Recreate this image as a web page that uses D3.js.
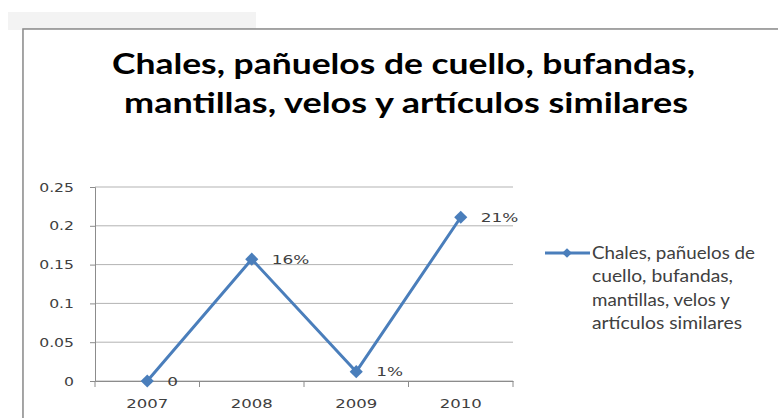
<!DOCTYPE html>
<html>
<head>
<meta charset="utf-8">
<script src="https://cdn.jsdelivr.net/npm/d3@7"></script>
<style>
  html, body { margin: 0; padding: 0; background: #fff; }
  svg { display: block; }
</style>
</head>
<body>
<svg id="chart" width="778" height="418"></svg>
<script>
// Chart data
const titleLines = ["Chales, pañuelos de cuello, bufandas,", "mantillas, velos y artículos similares"];
const years = ["2007", "2008", "2009", "2010"];
const values = [0, 0.157, 0.012, 0.211];
const yTicks = [0, 0.05, 0.1, 0.15, 0.2, 0.25];
const seriesName = ["Chales, pañuelos de", "cuello, bufandas,", "mantillas, velos y", "artículos similares"];

const svg = d3.select("#chart");
const textColor = "#404040";
const lineColor = "#4a7ebb";
const axisFont = "'DejaVu Sans', Verdana, sans-serif";
const textFont = "Lato, 'Open Sans', sans-serif";

// widen a text element horizontally by factor k
function widen(sel, k) {
  sel.each(function () {
    const len = this.getComputedTextLength();
    d3.select(this).attr("textLength", len * k).attr("lengthAdjust", "spacingAndGlyphs");
  });
}
// stretch a text element to an exact width
function fitTo(sel, w) {
  sel.attr("textLength", w).attr("lengthAdjust", "spacingAndGlyphs");
}

// faint band behind the top-left of the frame
svg.append("rect").attr("x", 8).attr("y", 12).attr("width", 248).attr("height", 18)
  .attr("fill", "#f3f3f3");

// chart frame (runs off the right and bottom edges)
svg.append("rect").attr("x", 24).attr("y", 30).attr("width", 800).attr("height", 420)
  .attr("fill", "#fff").attr("stroke", "#cccccc").attr("stroke-width", 3);
svg.append("rect").attr("x", 23).attr("y", 29).attr("width", 800).attr("height", 420)
  .attr("fill", "#fff").attr("stroke", "#8c8c8c").attr("stroke-width", 1.5);

// title
const titleWidths = [583, 564];
const titleCenters = [403.5, 406];
titleLines.forEach((t, i) => {
  svg.append("text")
    .attr("x", titleCenters[i]).attr("y", 74 + i * 39)
    .attr("text-anchor", "middle")
    .attr("font-family", textFont)
    .attr("font-weight", "bold")
    .attr("font-size", 29)
    .attr("fill", "#000")
    .text(t)
    .call(fitTo, titleWidths[i]);
});

// scales
const x = d3.scaleBand().domain(years).range([95, 513]);
const y = d3.scaleLinear().domain([0, 0.25]).range([381, 187]);

// gridlines
svg.append("g").selectAll("line").data(yTicks).join("line")
  .attr("x1", 95).attr("x2", 513)
  .attr("y1", d => y(d)).attr("y2", d => y(d))
  .attr("stroke", "#b3b3b3").attr("stroke-width", 1);

// y axis
const yAxis = svg.append("g").attr("transform", "translate(95,0)")
  .call(d3.axisLeft(y).tickValues(yTicks).tickSize(5).tickFormat(d => String(d)));
yAxis.select(".domain").attr("stroke", "#8c8c8c");
yAxis.selectAll(".tick line").attr("stroke", "#8c8c8c");
yAxis.selectAll(".tick text").attr("x", -21)
  .attr("font-family", axisFont).attr("font-size", 12.5).attr("fill", textColor)
  .call(widen, 1.25);

// x axis with tick marks between categories
const xAxis = svg.append("g").attr("transform", "translate(0,381)")
  .call(d3.axisBottom(x).tickSize(0).tickPadding(18));
xAxis.select(".domain").attr("stroke", "#8c8c8c");
xAxis.selectAll(".tick text")
  .attr("font-family", axisFont).attr("font-size", 13).attr("fill", textColor)
  .call(widen, 1.27);
const bounds = years.map(d => x(d)).concat([x.range()[1]]);
xAxis.append("g").selectAll("line").data(bounds).join("line")
  .attr("x1", d => d).attr("x2", d => d).attr("y1", 0).attr("y2", 6)
  .attr("stroke", "#8c8c8c");

// line series
const cx = d => x(d) + x.bandwidth() / 2;
const pts = years.map((yr, i) => [cx(yr), y(values[i])]);
svg.append("path").datum(pts)
  .attr("d", d3.line())
  .attr("fill", "none").attr("stroke", lineColor).attr("stroke-width", 3)
  .attr("stroke-linejoin", "round");

const diamond = d3.symbol().type(d3.symbolDiamond2).size(110);
svg.append("g").selectAll("path").data(pts).join("path")
  .attr("transform", d => `translate(${d[0]},${d[1]})`)
  .attr("d", diamond).attr("fill", lineColor);

// data labels
const pct = d3.format(".0%");
svg.append("g").selectAll("text").data(values).join("text")
  .attr("x", (d, i) => pts[i][0] + 20)
  .attr("y", (d, i) => pts[i][1])
  .attr("dy", "0.35em")
  .attr("font-family", axisFont).attr("font-size", 13).attr("fill", textColor)
  .text(d => d === 0 ? "0" : pct(d))
  .call(widen, 1.3);

// legend
const legendWidths = [163, 141, 138, 150];
const lg = svg.append("g").attr("transform", "translate(545,253)");
lg.append("line").attr("x1", 0).attr("x2", 45).attr("y1", 0).attr("y2", 0)
  .attr("stroke", lineColor).attr("stroke-width", 3);
lg.append("path").attr("transform", "translate(22,0)")
  .attr("d", d3.symbol().type(d3.symbolDiamond2).size(60)).attr("fill", lineColor);
lg.selectAll("text").data(seriesName).join("text")
  .attr("x", 47).attr("y", (d, i) => i * 23.3)
  .attr("dy", "0.35em")
  .attr("font-family", textFont).attr("font-size", 17.5).attr("fill", textColor)
  .text(d => d)
  .each(function (d, i) { d3.select(this).call(fitTo, legendWidths[i]); });
</script>
</body>
</html>
